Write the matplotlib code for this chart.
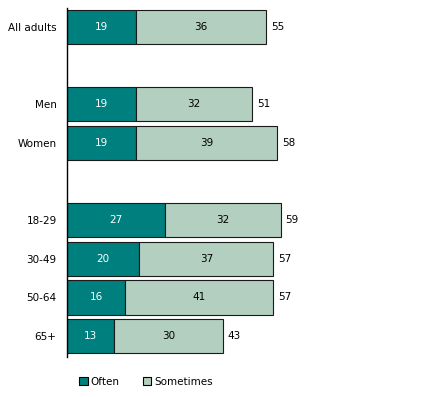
import matplotlib
matplotlib.use("Agg")
import matplotlib.pyplot as plt
from matplotlib.patches import Patch

categories = ["All adults", "Men", "Women", "18-29", "30-49", "50-64", "65+"]
often = [19, 19, 19, 27, 20, 16, 13]
sometimes = [36, 32, 39, 32, 37, 41, 30]
totals = [55, 51, 58, 59, 57, 57, 43]
positions = [0, 2, 3, 5, 6, 7, 8]

c_often = "#007F7F"
c_some = "#B3CFBF"

fig = plt.figure(figsize=(4.36, 3.97), dpi=100)
ax = fig.add_axes([67/436, 40/397, (420-67)/436, (389-40)/397])

h = 0.89
ax.barh(positions, often, height=h, color=c_often, edgecolor="#1a1a1a", linewidth=0.8)
ax.barh(positions, sometimes, left=often, height=h, color=c_some, edgecolor="#1a1a1a", linewidth=0.8)

fs = 7.5
for p, o, s, t in zip(positions, often, sometimes, totals):
    ax.text(o/2, p, str(o), ha="center", va="center", color="white", fontsize=fs)
    ax.text(o + s/2, p, str(s), ha="center", va="center", color="black", fontsize=fs)
    ax.text(o + s + 1.4, p, str(t), ha="left", va="center", color="black", fontsize=fs)

ax.set_yticks(positions)
ax.set_yticklabels(categories, fontsize=fs)
ax.tick_params(axis="y", length=0, pad=7.5)
ax.set_xticks([])
ax.set_xlim(0, (420-67)/3.62)
ax.set_ylim(8.54, -0.49)
for s in ["top", "right", "bottom"]:
    ax.spines[s].set_visible(False)
ax.spines["left"].set_linewidth(1.0)
ax.spines["left"].set_color("black")

handles = [Patch(facecolor=c_often, edgecolor="black", linewidth=0.8, label="Often"),
           Patch(facecolor=c_some, edgecolor="black", linewidth=0.8, label="Sometimes")]
fig.legend(handles=handles, loc="center left", bbox_to_anchor=(75/436, 1 - 382/397),
           ncol=2, frameon=False, fontsize=fs, handlelength=0.8, handleheight=0.8,
           handletextpad=0.3, columnspacing=2.2, borderaxespad=0)

fig.savefig("out.png", dpi=100)
